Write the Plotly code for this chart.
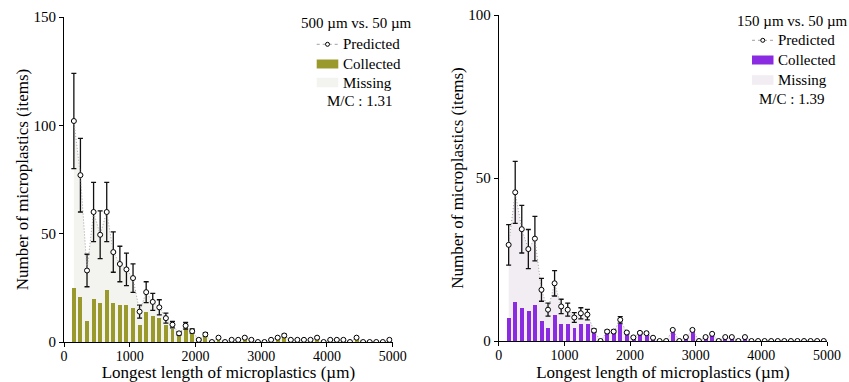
import plotly.graph_objects as go

# ---------------- data ----------------
size_bins = [150, 250, 350, 450, 550, 650, 750, 850, 950, 1050,
             1150, 1250, 1350, 1450, 1550, 1650, 1750, 1850, 1950, 2050,
             2150, 2250, 2350, 2450, 2550, 2650, 2750, 2850, 2950, 3050,
             3150, 3250, 3350, 3450, 3550, 3650, 3750, 3850, 3950, 4050,
             4150, 4250, 4350, 4450, 4550, 4650, 4750, 4850, 4950]

pred_500 = [102, 77, 33, 60, 49.5, 60, 41.5, 36, 33.5, 29.5,
            14, 23, 18.5, 16, 11, 8, 4, 7.5, 5, 1,
            3.5, 0, 2, 0, 1, 1, 2, 1, 0, 0,
            1, 2, 3, 1, 1, 1, 1, 2, 0, 1,
            1, 1, 0, 2, 0, 0, 0, 0, 1]
err_500 = [22, 17, 7.5, 13.7, 11, 13.7, 9.3, 8.2, 7.5, 6.6,
           3, 4.8, 3.9, 3.5, 2.3, 1.5, 0.8, 1.5, 1, 0.3,
           0.8, 0, 0.5, 0, 0, 0, 0.4, 0, 0, 0,
           0, 0.4, 0.6, 0, 0, 0, 0, 0.4, 0, 0,
           0, 0, 0, 0.4, 0, 0, 0, 0, 0]
coll_500 = [25, 20.7, 9.7, 19.8, 18, 24, 18, 17, 17, 15.7,
            7.8, 13.8, 12, 11, 7.8, 6, 3.2, 6, 4.1, 1,
            3, 0, 2, 0, 1, 1, 2, 1, 0, 0,
            1, 2, 3, 1, 1, 1, 1, 2, 0, 1,
            1, 1, 0, 2, 0, 0, 0, 0, 1]

pred_150 = [29.5, 45.6, 34.3, 28.2, 31.4, 15.7, 9.6, 17.7, 10.6, 9.6,
            7.2, 8.5, 8.1, 3.2, 0, 2.9, 2.9, 6.5, 2.6, 1.1,
            2.5, 2.4, 1.0, 0, 0, 3.4, 0, 1.2, 3.4, 0,
            1.2, 2.2, 0, 1.2, 1.2, 0, 1.2, 0, 0, 0,
            0, 0, 0, 0, 0, 0, 0, 0, 0]
err_150 = [6.2, 9.5, 7.3, 6, 6.8, 3.5, 2, 3.9, 2.2, 2,
           1.5, 1.7, 1.6, 0.5, 0, 0.4, 0.4, 1, 0.3, 0,
           0.3, 0.3, 0, 0, 0, 0, 0, 0, 0.3, 0,
           0, 0, 0, 0, 0, 0, 0, 0, 0, 0,
           0, 0, 0, 0, 0, 0, 0, 0, 0]
coll_150 = [7.2, 12, 10.1, 9.2, 11.1, 6.1, 4, 8, 5.2, 5.2,
            4, 5.2, 5.2, 2.8, 0, 2.9, 2.9, 5.4, 2.2, 1,
            2.4, 2.2, 1, 0, 0, 3.2, 0, 1.2, 3.2, 0,
            1.2, 2.2, 0, 1.2, 1.2, 0, 1.2, 0, 0, 0,
            0, 0, 0, 0, 0, 0, 0, 0, 0]

x_ticks = [0, 1000, 2000, 3000, 4000, 5000]
y_ticks_500 = [0, 50, 100, 150]
y_ticks_150 = [0, 50, 100]

panel_titles = ["500 µm vs. 50 µm", "150 µm vs. 50 µm"]
mc_labels = ["M/C : 1.31", "M/C : 1.39"]
legend_names = ["Predicted", "Collected", "Missing"]

# ---------------- style ----------------
W, H = 849, 382
ML, MR, MT, MB = 64, 22, 15, 40
IW, IH = W - ML - MR, H - MT - MB
FONT = "Liberation Serif, Times New Roman, serif"
OLIVE = "#9a9a2c"
PURPLE = "#8a2be2"
MISS_L = "#f3f3f0"
MISS_R = "#f2edf2"
DOT = "#a0a0a0"


def px(x):
    return (x - ML) / IW


def py(y):
    return (H - MB - y) / IH


fig = go.Figure()

panels = [
    dict(pred=pred_500, err=err_500, coll=coll_500, color=OLIVE, miss=MISS_L,
         base=("x", "y"), over=("x3", "y3")),
    dict(pred=pred_150, err=err_150, coll=coll_150, color=PURPLE, miss=MISS_R,
         base=("x2", "y2"), over=("x4", "y4")),
]

for p in panels:
    # Missing area (base subplot, drawn underneath)
    fig.add_trace(go.Scatter(x=size_bins, y=p["pred"], mode="none", fill="tozeroy",
                             fillcolor=p["miss"], xaxis=p["base"][0], yaxis=p["base"][1],
                             showlegend=False, hoverinfo="skip"))
    # Collected bars (overlay subplot)
    fig.add_trace(go.Bar(x=size_bins, y=p["coll"], width=60, marker_color=p["color"],
                         marker_line_width=0, xaxis=p["over"][0], yaxis=p["over"][1],
                         showlegend=False))
    # Predicted dotted line with markers and error bars
    fig.add_trace(go.Scatter(x=size_bins, y=p["pred"], mode="lines+markers",
                             line=dict(color=DOT, width=1, dash="1px,2px"),
                             marker=dict(symbol="circle", size=5, color="white",
                                         line=dict(color="black", width=1)),
                             error_y=dict(type="data", array=p["err"], color="#111111",
                                          thickness=1.3, width=2.5),
                             cliponaxis=True,
                             xaxis=p["over"][0], yaxis=p["over"][1], showlegend=False))

axis_common = dict(showgrid=False, zeroline=False, showline=True, linecolor="black",
                   linewidth=1, ticks="outside", ticklen=4, tickwidth=1, tickcolor="black",
                   fixedrange=True, automargin=False)

xdom_l = [px(64), px(392.7)]
xdom_r = [px(498.8), min(1.0, px(827.3))]
ydom_l = [py(342), py(17)]
ydom_r = [py(341), min(1.0, py(15))]

xtitle = dict(text="Longest length of microplastics (µm)", font=dict(size=17, family=FONT, color="black"), standoff=4)
ytitle = dict(text="Number of microplastics (items)", font=dict(size=17, family=FONT, color="black"), standoff=0)

fig.update_layout(
    width=W, height=H, margin=dict(l=ML, r=MR, t=MT, b=MB, pad=0),
    paper_bgcolor="white", plot_bgcolor="white",
    font=dict(family=FONT, color="black"),
    showlegend=False, bargap=0,
    xaxis=dict(domain=xdom_l, range=[0, 5000], tickvals=x_ticks, anchor="y",
               tickfont=dict(size=14), ticklabelstandoff=-3, title=xtitle, **axis_common),
    yaxis=dict(domain=ydom_l, range=[0, 150], tickvals=y_ticks_500, anchor="x",
               tickfont=dict(size=15), title=ytitle, **axis_common),
    xaxis2=dict(domain=xdom_r, range=[0, 5000], tickvals=x_ticks, anchor="y2",
                tickfont=dict(size=14), ticklabelstandoff=-3, title=xtitle, **axis_common),
    yaxis2=dict(domain=ydom_r, range=[0, 100], tickvals=y_ticks_150, anchor="x2",
                tickfont=dict(size=15), title=ytitle, **axis_common),
    xaxis3=dict(overlaying="x", range=[0, 5000], visible=False, anchor="y3", fixedrange=True),
    yaxis3=dict(overlaying="y", range=[0, 150], visible=False, anchor="x3", fixedrange=True),
    xaxis4=dict(overlaying="x2", range=[0, 5000], visible=False, anchor="y4", fixedrange=True),
    yaxis4=dict(overlaying="y2", range=[0, 100], visible=False, anchor="x4", fixedrange=True),
)

# ---------------- manual legends ----------------
legends = [
    dict(title_x=356, title_y=23, sym_x0=316.7, sym_x1=338.3, text_x=341,
         rows=[44.3, 64, 82.5], mc_x=359, mc_y=100.7, color=OLIVE, miss=MISS_L,
         title=panel_titles[0], mc=mc_labels[0]),
    dict(title_x=792, title_y=21, sym_x0=752, sym_x1=773.5, text_x=775.5,
         rows=[40.3, 60, 80], mc_x=791, mc_y=98.7, color=PURPLE, miss=MISS_R,
         title=panel_titles[1], mc=mc_labels[1]),
]

shapes = []
annotations = []
fs = 15
for lg in legends:
    annotations.append(dict(text=lg["title"], x=px(lg["title_x"]), y=py(lg["title_y"]),
                            xref="paper", yref="paper", showarrow=False,
                            xanchor="center", yanchor="middle", font=dict(size=fs)))
    r0, r1, r2 = lg["rows"]
    # predicted symbol
    shapes.append(dict(type="line", xref="paper", yref="paper",
                       x0=px(lg["sym_x0"]), x1=px(lg["sym_x1"]), y0=py(r0), y1=py(r0),
                       line=dict(color=DOT, width=1, dash="dot")))
    cx = (lg["sym_x0"] + lg["sym_x1"]) / 2
    shapes.append(dict(type="circle", xref="paper", yref="paper",
                       x0=px(cx - 2), x1=px(cx + 2), y0=py(r0 + 2), y1=py(r0 - 2),
                       fillcolor="white", line=dict(color="black", width=1)))
    # collected symbol
    shapes.append(dict(type="rect", xref="paper", yref="paper",
                       x0=px(lg["sym_x0"]), x1=px(lg["sym_x1"]), y0=py(r1 + 4.5), y1=py(r1 - 4.5),
                       fillcolor=lg["color"], line=dict(width=0)))
    # missing symbol
    shapes.append(dict(type="rect", xref="paper", yref="paper",
                       x0=px(lg["sym_x0"]), x1=px(lg["sym_x1"]), y0=py(r2 + 4.8), y1=py(r2 - 4.8),
                       fillcolor=lg["miss"], line=dict(width=0)))
    for name, ry in zip(legend_names, lg["rows"]):
        annotations.append(dict(text=name, x=px(lg["text_x"]), y=py(ry), xref="paper", yref="paper",
                                showarrow=False, xanchor="left", yanchor="middle",
                                font=dict(size=fs)))
    annotations.append(dict(text=lg["mc"], x=px(lg["mc_x"]), y=py(lg["mc_y"]),
                            xref="paper", yref="paper", showarrow=False,
                            xanchor="center", yanchor="middle", font=dict(size=fs)))

fig.update_layout(shapes=shapes, annotations=annotations)

fig.write_html("out.html", config={"displayModeBar": False},
               post_script="document.body.style.margin='0';")
